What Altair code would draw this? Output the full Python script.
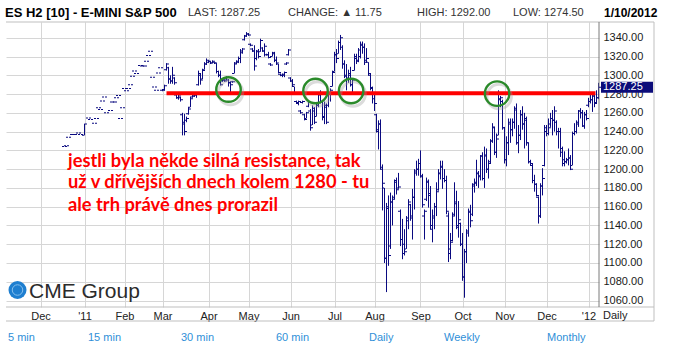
import json
import altair as alt
import pandas as pd

# ---------------- data (trading-day index 0 = 1 Dec 2010) ----------------
# thin early trading: single-price prints
dash_idx = [12, 13, 14, 16, 17, 19, 20, 24, 25, 27, 28, 29, 30, 31, 32, 33, 35, 36, 37, 38, 39,
            40, 41, 42, 43, 44, 45, 46, 47, 48, 50, 51, 52, 53, 54, 55, 56, 57, 58, 59, 60]
dash_price = [1224, 1225, 1234, 1237, 1237, 1238.5, 1237, 1254.5, 1253, 1249, 1254, 1265.5, 1263.5,
              1272.5, 1277, 1260, 1262.5, 1271.5, 1271.5, 1276, 1278.5, 1254, 1265.5, 1286, 1283.5,
              1286, 1290, 1299, 1304.5, 1302, 1310.5, 1310, 1310, 1315, 1321, 1325.5, 1298, 1287.5,
              1284, 1302.5, 1308]
early_idx = [22]
early_h = [1248.5]
early_l = [1236]
early_o = [1236]
early_c = [1248]

daily_start = 61  # 1 Mar 2011
mar_h = [1285, 1290, 1313, 1309, 1300, 1309, 1298, 1280, 1279, 1277, 1260, 1259, 1256, 1266, 1277, 1279, 1280, 1281, 1305, 1302, 1307, 1314, 1318]
mar_l = [1283, 1284, 1305, 1291, 1291, 1291, 1290, 1275, 1274, 1272, 1236, 1236, 1250, 1258, 1266, 1276, 1277, 1276, 1289, 1290, 1296, 1306, 1311]
mar_o = [1284, 1285, 1306, 1308, 1296, 1294, 1297, 1279, 1276, 1276, 1258, 1248, 1252, 1259, 1266, 1277, 1278, 1279, 1290, 1300, 1296, 1306, 1312]
mar_c = [1284, 1289, 1312, 1296, 1294, 1300, 1292, 1276, 1278, 1274, 1250, 1240, 1254, 1264, 1275, 1278, 1279, 1280, 1302, 1295, 1305, 1312, 1316]

apr_h = [1316, 1315, 1316, 1314, 1313, 1305, 1305, 1296, 1295, 1299, 1296, 1293, 1294, 1314, 1316, 1320, 1328, 1329, 1343, 1346]
apr_l = [1313, 1312, 1313, 1312, 1302, 1298, 1289, 1293, 1293, 1295, 1288, 1282, 1292, 1302, 1312, 1313, 1313, 1323, 1337, 1341]
apr_o = [1314, 1315, 1313, 1314, 1313, 1304, 1300, 1294, 1295, 1295, 1295, 1292, 1293, 1302, 1313, 1314, 1318, 1324, 1338, 1342]
apr_c = [1315, 1313, 1315, 1313, 1304, 1300, 1290, 1295, 1294, 1298, 1292, 1290, 1293, 1312, 1315, 1318, 1326, 1328, 1342, 1344]

may_h = [1345, 1334, 1329, 1332, 1327, 1328, 1339, 1330, 1334, 1323, 1325, 1313, 1325, 1325, 1320, 1312, 1302, 1302, 1304, 1314, 1328]
may_l = [1342, 1331, 1325, 1305, 1316, 1318, 1325, 1325, 1320, 1321, 1318, 1310, 1320, 1314, 1311, 1302, 1299, 1298, 1298, 1311, 1321]
may_o = [1344, 1333, 1328, 1326, 1318, 1326, 1325, 1329, 1326, 1322, 1322, 1312, 1320, 1323, 1316, 1312, 1301, 1300, 1300, 1312, 1322]
may_c = [1343, 1332, 1326, 1310, 1325, 1320, 1337, 1326, 1331, 1322, 1319, 1311, 1324, 1316, 1313, 1303, 1300, 1301, 1303, 1313, 1327]

jun_h = [1298, 1296, 1288, 1273, 1273, 1263, 1273, 1259, 1261, 1273, 1264, 1268, 1266, 1270, 1282, 1284, 1273, 1272, 1270, 1282, 1286, 1305]
jun_l = [1293, 1288, 1280, 1270, 1268, 1259, 1270, 1252, 1254, 1266, 1241, 1247, 1248, 1256, 1266, 1270, 1252, 1248, 1248, 1266, 1272, 1288]
jun_o = [1297, 1294, 1288, 1272, 1270, 1262, 1271, 1258, 1254, 1267, 1262, 1247, 1262, 1256, 1268, 1279, 1272, 1255, 1266, 1268, 1280, 1288]
jun_c = [1294, 1290, 1281, 1271, 1272, 1260, 1272, 1253, 1260, 1272, 1244, 1265, 1250, 1268, 1280, 1272, 1256, 1268, 1250, 1280, 1284, 1303]

jul_h = [1325, 1328, 1337, 1343, 1332, 1316, 1312, 1306, 1309, 1297, 1323, 1323, 1329, 1336, 1336, 1334, 1329, 1314, 1302, 1288]
jul_l = [1304, 1313, 1323, 1327, 1307, 1297, 1284, 1292, 1288, 1282, 1305, 1312, 1314, 1318, 1323, 1311, 1314, 1300, 1284, 1270]
jul_o = [1304, 1322, 1323, 1335, 1330, 1312, 1300, 1297, 1302, 1290, 1305, 1318, 1316, 1320, 1332, 1330, 1316, 1314, 1300, 1286]
jul_c = [1322, 1318, 1335, 1340, 1312, 1299, 1296, 1300, 1290, 1295, 1320, 1315, 1327, 1333, 1330, 1314, 1318, 1302, 1287, 1275]

aug_h = [1282, 1259, 1252, 1253, 1205, 1180, 1164, 1172, 1175, 1172, 1189, 1191, 1196, 1157, 1147, 1136, 1150, 1168, 1163, 1179, 1200, 1209, 1211]
aug_l = [1262, 1239, 1221, 1200, 1156, 1100, 1069, 1097, 1115, 1140, 1168, 1173, 1179, 1118, 1104, 1108, 1115, 1136, 1145, 1125, 1157, 1193, 1193]
aug_o = [1280, 1258, 1240, 1248, 1200, 1180, 1105, 1158, 1118, 1165, 1170, 1186, 1180, 1155, 1125, 1120, 1115, 1145, 1162, 1150, 1170, 1196, 1200]
aug_c = [1270, 1242, 1248, 1202, 1185, 1105, 1160, 1108, 1165, 1168, 1188, 1178, 1181, 1125, 1110, 1112, 1148, 1165, 1148, 1170, 1198, 1200, 1206]

sep_h = [1220, 1195, 1157, 1191, 1189, 1182, 1157, 1164, 1186, 1200, 1209, 1209, 1200, 1193, 1154, 1132, 1154, 1186, 1177, 1166, 1143]
sep_l = [1191, 1159, 1125, 1166, 1159, 1136, 1122, 1136, 1150, 1177, 1189, 1179, 1186, 1152, 1101, 1104, 1123, 1150, 1136, 1127, 1118]
sep_o = [1206, 1192, 1150, 1168, 1186, 1172, 1136, 1148, 1160, 1178, 1195, 1202, 1190, 1188, 1150, 1110, 1124, 1152, 1165, 1140, 1142]
sep_c = [1193, 1162, 1155, 1187, 1174, 1140, 1150, 1160, 1176, 1196, 1203, 1190, 1188, 1155, 1115, 1122, 1150, 1163, 1138, 1146, 1120]

oct_h = [1132, 1115, 1136, 1158, 1162, 1185, 1190, 1210, 1198, 1215, 1218, 1224, 1222, 1210, 1232, 1249, 1245, 1238, 1284, 1278, 1274]
oct_l = [1081, 1063, 1100, 1128, 1138, 1150, 1175, 1182, 1180, 1188, 1188, 1180, 1196, 1190, 1206, 1228, 1215, 1212, 1236, 1266, 1242]
oct_o = [1120, 1085, 1112, 1132, 1155, 1152, 1182, 1186, 1195, 1192, 1214, 1190, 1214, 1200, 1208, 1230, 1244, 1218, 1236, 1274, 1272]
oct_c = [1085, 1112, 1134, 1154, 1145, 1184, 1185, 1196, 1193, 1214, 1190, 1215, 1200, 1206, 1230, 1245, 1218, 1232, 1275, 1276, 1244]

nov_h = [1245, 1235, 1254, 1254, 1254, 1267, 1270, 1247, 1263, 1267, 1260, 1256, 1228, 1210, 1206, 1194, 1185, 1171, 1185, 1201, 1247]
nov_l = [1206, 1203, 1215, 1228, 1235, 1243, 1226, 1217, 1231, 1242, 1222, 1225, 1206, 1204, 1185, 1176, 1171, 1142, 1148, 1172, 1203]
nov_o = [1244, 1210, 1228, 1248, 1242, 1250, 1265, 1228, 1236, 1258, 1248, 1254, 1228, 1208, 1204, 1188, 1184, 1170, 1150, 1182, 1204]
nov_c = [1210, 1228, 1250, 1242, 1250, 1263, 1228, 1236, 1258, 1248, 1252, 1228, 1208, 1206, 1188, 1184, 1172, 1150, 1182, 1190, 1244]

dec_h = [1247, 1254, 1260, 1263, 1267, 1252, 1244, 1244, 1224, 1219, 1212, 1222, 1215, 1240, 1249, 1252, 1263, 1265, 1263, 1261, 1263]
dec_l = [1235, 1236, 1245, 1236, 1240, 1236, 1222, 1213, 1203, 1203, 1206, 1204, 1199, 1204, 1236, 1238, 1245, 1254, 1245, 1243, 1252]
dec_o = [1240, 1238, 1248, 1254, 1252, 1250, 1240, 1240, 1222, 1210, 1208, 1210, 1212, 1204, 1238, 1240, 1248, 1262, 1260, 1246, 1258]
dec_c = [1238, 1244, 1254, 1252, 1262, 1240, 1240, 1218, 1206, 1208, 1210, 1212, 1200, 1238, 1240, 1250, 1262, 1260, 1246, 1258, 1254]

jan_h = [1276, 1281, 1282, 1279, 1284, 1292]
jan_l = [1266, 1270, 1261, 1266, 1270, 1274.5]
jan_o = [1268, 1272, 1274, 1278, 1271, 1276]
jan_c = [1272, 1274, 1278, 1270, 1276, 1287.25]

month_idx = [0, 22, 42, 61, 84, 104, 125, 147, 167, 190, 211, 232, 253, 274]
month_lab = ["Dec", "'11", "Feb", "Mar", "Apr", "May", "Jun", "Jul", "Aug", "Sep", "Oct", "Nov", "Dec", "'12"]
price_ticks = [1060, 1080, 1100, 1120, 1140, 1160, 1180, 1200, 1220, 1240, 1260, 1280, 1300, 1320, 1340]

res_start, res_end, res_price = [63], [277.5], [1281]
circ_idx = [94, 137.5, 155.3, 228.3]
circ_price = [1284.8, 1283.3, 1283.3, 1280.5]
last_price = [1287.25]

header_title = "ES H2 [10] - E-MINI S&P 500"
header_items = ["LAST: 1287.25", "CHANGE: \u25B2 11.75", "HIGH: 1292.00", "LOW: 1274.50"]
header_date = "1/10/2012"
note_lines = ["jestli byla někde silná resistance, tak",
              "už v dřívějších dnech kolem 1280 - tu",
              "ale trh právě dnes prorazil"]
links = ["5 min", "15 min", "30 min", "60 min", "Daily", "Weekly", "Monthly"]

# ---------------- build table ----------------
H = mar_h + apr_h + may_h + jun_h + jul_h + aug_h + sep_h + oct_h + nov_h + dec_h + jan_h
L = mar_l + apr_l + may_l + jun_l + jul_l + aug_l + sep_l + oct_l + nov_l + dec_l + jan_l
O = mar_o + apr_o + may_o + jun_o + jul_o + aug_o + sep_o + oct_o + nov_o + dec_o + jan_o
C = mar_c + apr_c + may_c + jun_c + jul_c + aug_c + sep_c + oct_c + nov_c + dec_c + jan_c
daily = pd.DataFrame({"idx": list(range(daily_start, daily_start + len(H))),
                      "high": H, "low": L, "open": O, "close": C})
dashes = pd.DataFrame({"idx": dash_idx, "high": dash_price, "low": dash_price,
                       "open": dash_price, "close": dash_price})
early = pd.DataFrame({"idx": early_idx, "high": early_h, "low": early_l,
                      "open": early_o, "close": early_c})
df = pd.concat([dashes, early, daily], ignore_index=True)

NAVY = "#0a0a80"
SANS = "Liberation Sans, Arial, sans-serif"
GRID = "#d6d6d6"

xs = alt.Scale(domain=[-17.25, 279.25], nice=False, zero=False)
ys = alt.Scale(domain=[1053.1, 1356.8], nice=False, zero=False)

label_expr = f"{json.dumps(month_lab)}[indexof({json.dumps(month_idx)}, datum.value)]"
x_axis = alt.Axis(values=month_idx, labelExpr=label_expr, grid=True, gridColor=GRID,
                  domain=False, ticks=False, labelFont=SANS, labelFontSize=11,
                  labelColor="#222", labelPadding=12, labelBaseline="alphabetic",
                  labelAngle=0, labelFlush=False, labelOverlap=False, title=None)
y_axis = alt.Axis(orient="right", values=price_ticks, format=".2f", grid=True, gridColor=GRID,
                  domain=False, ticks=False, labelAlign="left", labelPadding=4,
                  labelFont=SANS, labelFontSize=11, labelColor="#1a1a1a",
                  labelFlush=False, labelOverlap=False, title=None)


def X(field):
    return alt.X(field, scale=xs, axis=x_axis, title=None)


def Y(field):
    return alt.Y(field, scale=ys, axis=y_axis, title=None)


one = pd.DataFrame({"k": [0]})


def text(txt, x, y, size=11, weight="normal", color="#222", font=SANS, align="left"):
    return alt.Chart(one).mark_text(text=txt, font=font, fontSize=size, fontWeight=weight,
                                    color=color, align=align, baseline="alphabetic").encode(
        x=alt.value(x), y=alt.value(y))


def hline(x1, x2, y, color, w=1):
    return alt.Chart(one).mark_rule(color=color, strokeWidth=w).encode(
        x=alt.value(x1), x2=alt.value(x2), y=alt.value(y))


def vline(x, y1, y2, color, w=1):
    return alt.Chart(one).mark_rule(color=color, strokeWidth=w).encode(
        x=alt.value(x), y=alt.value(y1), y2=alt.value(y2))


bars = alt.Chart(df).mark_rule(color=NAVY, strokeWidth=1).encode(
    x=X("idx:Q"), y=Y("low:Q"), y2="high:Q")
open_t = alt.Chart(df).mark_tick(orient="horizontal", size=2, thickness=1, color=NAVY,
                                 xOffset=-1.5, opacity=1).encode(x=X("idx:Q"), y=Y("open:Q"))
close_t = alt.Chart(df).mark_tick(orient="horizontal", size=2, thickness=1, color=NAVY,
                                  xOffset=1.5, opacity=1).encode(x=X("idx:Q"), y=Y("close:Q"))

res_df = pd.DataFrame({"start": res_start, "end": res_end, "price": res_price})
red = alt.Chart(res_df).mark_rule(color="#ff0000", strokeWidth=4).encode(
    x=X("start:Q"), x2="end:Q", y=Y("price:Q"))

circ_df = pd.DataFrame({"idx": circ_idx, "price": circ_price})
shadow = alt.Chart(circ_df).mark_point(shape="circle", size=600, filled=False, color="#9a9a9a",
                                       strokeWidth=3, opacity=0.35, xOffset=2, yOffset=3).encode(
    x=X("idx:Q"), y=Y("price:Q"))
circles = alt.Chart(circ_df).mark_point(shape="circle", size=600, filled=False, color="#2a8a2a",
                                        strokeWidth=2.4, opacity=1).encode(
    x=X("idx:Q"), y=Y("price:Q"))

last_df = pd.DataFrame({"price": last_price, "lab": ["%.2f" % v for v in last_price]})
last_box = alt.Chart(last_df).mark_point(
    shape="M-1,-0.212L1,-0.212L1,0.212L-1,0.212Z", size=2704, filled=True,
    color="#0c0c7a", opacity=1).encode(x=alt.value(621), y=Y("price:Q"))
last_txt = alt.Chart(last_df).mark_text(font=SANS, fontSize=11, color="white", align="left",
                                        baseline="middle").encode(
    x=alt.value(597), y=Y("price:Q"), text="lab:N")

FRAME = "#bfbfbf"
frame = [hline(0, 648, 0, FRAME), vline(648, 0, 299, FRAME), hline(0, 648, 299, FRAME),
         hline(0, 648, 285, FRAME), vline(593, 0, 285, "#7a7a7a")]

header = [text(header_title, -1, -5, 13, "bold", "#000")]
for t, x in zip(header_items, [182, 282, 411, 507]):
    header.append(text(t, x, -6, 11, "normal", "#333"))
header.append(text(header_date, 598, -5, 12, "bold", "#000"))

notes = [text(t, 62, y, 18.3, "bold", "#ff0000", "Lato, Liberation Sans, sans-serif")
         for t, y in zip(note_lines, [144.7, 166.2, 188.8])]

globe = alt.Chart(one).mark_point(shape="circle", size=324, filled=True, color="#1f7fd0",
                                  opacity=1).encode(x=alt.value(11.5), y=alt.value(268))
globe2 = alt.Chart(one).mark_point(shape="circle", size=110, filled=False, color="#9fd0f5",
                                   strokeWidth=1, opacity=0.8).encode(x=alt.value(11.5), y=alt.value(268))
logo = [globe, globe2, text("CME Group", 23, 276, 21, "normal", "#2b2b2b")]

link_layers = [text(t, x, 318.7, 11, "normal", "#2f8fd8")
               for t, x in zip(links, [2, 82, 175, 270, 363, 438, 541])]
daily_lbl = [text("Daily", 597, 296.5, 11, "normal", "#222")]

chart = alt.layer(
    bars, *frame, open_t, close_t, red, shadow, circles, last_box, last_txt,
    *header, *notes, *logo, *link_layers, *daily_lbl
).properties(
    width=593, height=285,
    padding={"left": 6, "top": 22, "right": 75, "bottom": 43},
    autosize=alt.AutoSizeParams(type="none"),
    background="white",
).configure_view(stroke=None)

chart.save("out.html", embed_options={"renderer": "svg", "actions": False})
